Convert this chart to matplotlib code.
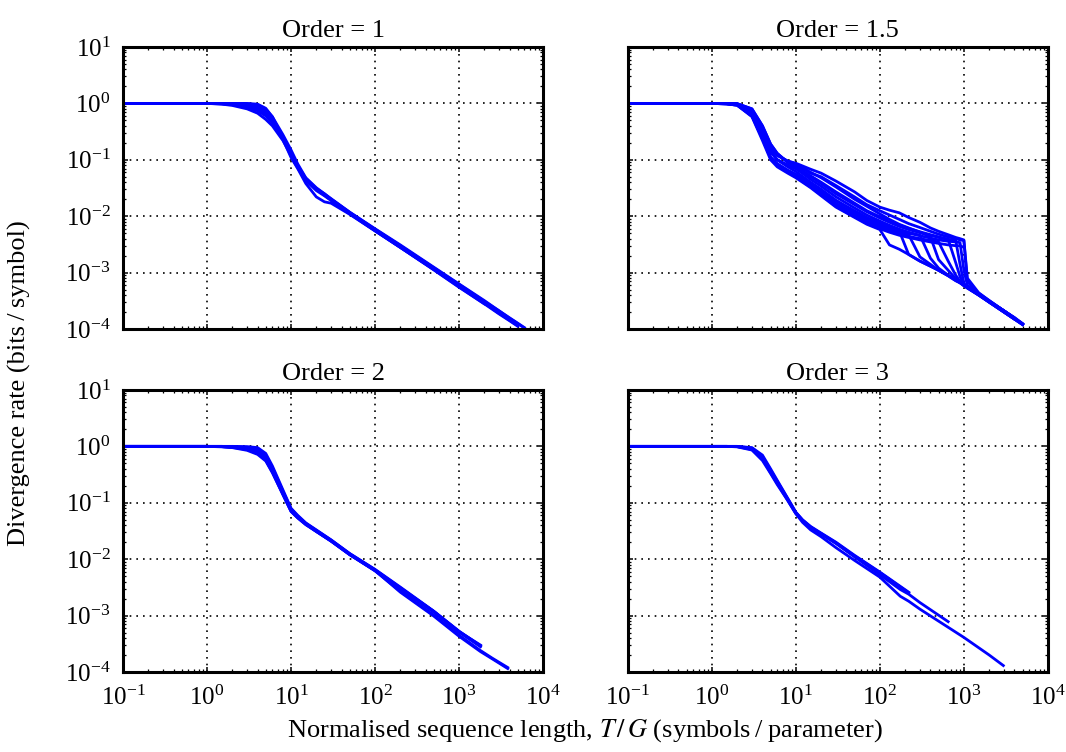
import matplotlib
matplotlib.use("Agg")
import matplotlib.pyplot as plt
from matplotlib.ticker import LogLocator, NullFormatter

# ---- data ----
titles = ["Order = 1", "Order = 1.5", "Order = 2", "Order = 3"]

# Order = 1
p1_x = [0.1, 0.5, 1, 1.5, 2, 3, 4, 5, 6, 8, 10, 12, 15, 20, 25, 30, 50, 100, 200, 500,
        1000, 2000, 3000, 4000, 5000, 6000]
p1_curves = [
    [1, 1, 1, 1, 1, 1, 0.97, 0.82, 0.58, 0.24, 0.12, 0.075, 0.046, 0.031, 0.024, 0.020, 0.0115,
     0.0058, 0.0030, 0.00122, 0.00062, 0.00031, 0.00021, 0.000155, 0.000125, 0.000104],
    [1, 1, 1, 1, 0.99, 0.96, 0.9, 0.74, 0.55, 0.25, 0.13, 0.078, 0.047, 0.031, 0.025, 0.020, 0.0117,
     0.0059, 0.0030, 0.00121, 0.00060, 0.00030, 0.00020, 0.000150, 0.000120],
    [1, 1, 1, 0.99, 0.97, 0.9, 0.8, 0.66, 0.5, 0.26, 0.135, 0.08, 0.045, 0.030, 0.024, 0.0195, 0.0114,
     0.0057, 0.0029, 0.00118, 0.00059, 0.00029, 0.000195, 0.000146],
    [1, 1, 1, 0.97, 0.92, 0.8, 0.67, 0.52, 0.4, 0.22, 0.12, 0.074, 0.044, 0.030, 0.0235, 0.0192, 0.0112,
     0.0056, 0.0028, 0.00115, 0.00058, 0.00029, 0.00019],
    [1, 1, 1, 0.98, 0.95, 0.85, 0.74, 0.6, 0.45, 0.23, 0.11, 0.07, 0.038, 0.022, 0.018, 0.017, 0.0108,
     0.0055, 0.0028, 0.00113, 0.00056, 0.00028, 0.000185, 0.00014, 0.000112],
    [1, 1, 1, 1, 1, 0.98, 0.94, 0.78, 0.58, 0.28, 0.15, 0.085, 0.048, 0.032, 0.025, 0.0205, 0.0118,
     0.0060, 0.0031, 0.00125, 0.00063, 0.00032, 0.00021, 0.000158, 0.000127, 0.000106],
    [1, 1, 1, 0.99, 0.96, 0.87, 0.77, 0.63, 0.48, 0.24, 0.125, 0.077, 0.046, 0.030, 0.024, 0.0197, 0.0113,
     0.0056, 0.0029, 0.00117, 0.00058, 0.00029, 0.00019, 0.000143, 0.000115],
    [1, 1, 1, 1, 0.98, 0.93, 0.86, 0.7, 0.53, 0.25, 0.118, 0.072, 0.043, 0.0285, 0.023, 0.019, 0.011,
     0.0055, 0.0028, 0.00112, 0.00055, 0.00028],
]

# Order = 1.5
p2_x = [0.1, 0.5, 1, 1.5, 2, 3, 4, 5, 6, 8, 10, 15, 20, 30, 50, 70, 100, 130, 170, 220, 300,
        400, 500, 650, 800, 900, 1000, 1100, 1500, 2000, 3000, 4000, 5000]
p2_curves = [
    # lowest, drops at ~100
    [1, 1, 1, 0.98, 0.93, 0.58, 0.22, 0.1, 0.075, 0.058, 0.048, 0.032, 0.023, 0.0145, 0.0095, 0.0072,
     0.0058, 0.0031, 0.0026, 0.0021, 0.0016, 0.0013, 0.0011, 0.0009, 0.00075, 0.00068, 0.0006,
     0.00054, 0.0004, 0.0003, 0.0002, 0.00015, 0.00012],
    # drops at 220
    [1, 1, 1, 0.99, 0.95, 0.62, 0.25, 0.11, 0.085, 0.065, 0.055, 0.036, 0.027, 0.017, 0.011, 0.0085,
     0.0068, 0.0058, 0.0051, 0.0047, 0.0019, 0.0014, 0.0011, 0.00088, 0.00072, 0.00066, 0.0006,
     0.00055, 0.00041, 0.00031, 0.00021, 0.000155, 0.000122],
    # drops at 300
    [1, 1, 1, 1, 0.97, 0.7, 0.3, 0.14, 0.1, 0.08, 0.07, 0.045, 0.034, 0.022, 0.014, 0.0105,
     0.0082, 0.0069, 0.0059, 0.0052, 0.0046, 0.0018, 0.0012, 0.0009, 0.00075, 0.00066, 0.00058,
     0.00053, 0.0004, 0.0003, 0.0002, 0.00015],
    # drops at 400
    [1, 1, 1, 1, 0.98, 0.75, 0.35, 0.16, 0.12, 0.095, 0.085, 0.06, 0.048, 0.033, 0.02, 0.015,
     0.011, 0.0088, 0.0072, 0.0062, 0.0052, 0.0043, 0.0017, 0.0011, 0.00078, 0.00068, 0.0006,
     0.00055, 0.00041, 0.00031, 0.00021, 0.000155, 0.000123],
    # drops at 500
    [1, 1, 1, 0.98, 0.93, 0.6, 0.24, 0.11, 0.08, 0.062, 0.052, 0.034, 0.025, 0.016, 0.0105, 0.008,
     0.0064, 0.0055, 0.0049, 0.0044, 0.0040, 0.0037, 0.0035, 0.0016, 0.0009, 0.0007, 0.00061,
     0.00055, 0.00041, 0.0003, 0.0002, 0.00015, 0.00012],
    # drops at 650
    [1, 1, 1, 1, 0.99, 0.8, 0.4, 0.19, 0.13, 0.09, 0.075, 0.052, 0.04, 0.027, 0.017, 0.0125,
     0.0098, 0.0082, 0.007, 0.0061, 0.0053, 0.0047, 0.0043, 0.0039, 0.0015, 0.00085, 0.00062,
     0.00055, 0.00041, 0.00031, 0.00021, 0.000155],
    # drops at 800
    [1, 1, 1, 1, 0.97, 0.7, 0.3, 0.14, 0.1, 0.08, 0.07, 0.05, 0.038, 0.025, 0.016, 0.012,
     0.0093, 0.0078, 0.0066, 0.0058, 0.0051, 0.0046, 0.0042, 0.0039, 0.0037, 0.0014, 0.00065,
     0.00055, 0.00042, 0.00031, 0.00021, 0.000156, 0.000124],
    # drops at 900
    [1, 1, 1, 0.99, 0.95, 0.62, 0.25, 0.11, 0.085, 0.065, 0.055, 0.038, 0.029, 0.019, 0.0125, 0.0095,
     0.0075, 0.0064, 0.0056, 0.0050, 0.0045, 0.0041, 0.0038, 0.0036, 0.0035, 0.0034, 0.0011,
     0.0006, 0.00042, 0.00031, 0.00021, 0.000155, 0.000122],
    # drops at 1000
    [1, 1, 1, 1, 0.99, 0.8, 0.4, 0.19, 0.13, 0.09, 0.08, 0.058, 0.05, 0.035, 0.022, 0.016,
     0.0125, 0.0105, 0.0088, 0.0074, 0.0063, 0.0054, 0.0048, 0.0043, 0.004, 0.0038, 0.0037,
     0.0007, 0.00043, 0.00032, 0.00021, 0.00016, 0.000125],
    # upper, wavy, drops at 1000
    [1, 1, 1, 1, 0.98, 0.75, 0.35, 0.16, 0.12, 0.095, 0.087, 0.068, 0.058, 0.042, 0.027, 0.019,
     0.0145, 0.0128, 0.0115, 0.0095, 0.0078, 0.0062, 0.0054, 0.0047, 0.0042, 0.0040, 0.0038,
     0.0008, 0.00044, 0.00032, 0.00021, 0.000158],
    # ends at 1000 without drop
    [1, 1, 1, 0.98, 0.93, 0.6, 0.24, 0.11, 0.08, 0.062, 0.05, 0.033, 0.024, 0.015, 0.0098, 0.0075,
     0.006, 0.0052, 0.0046, 0.0042, 0.0038, 0.0035, 0.0033, 0.0031, 0.003, 0.003, 0.0028],
    # drops at 170
    [1, 1, 1, 1, 0.97, 0.7, 0.3, 0.14, 0.1, 0.075, 0.062, 0.04, 0.03, 0.019, 0.012, 0.0092,
     0.0072, 0.0062, 0.0055, 0.0021, 0.0016, 0.0013, 0.0011, 0.00088, 0.00072, 0.00066, 0.0006,
     0.00054, 0.0004, 0.0003, 0.0002, 0.00015, 0.00012],
]

# Order = 2
p3_x = [0.1, 0.5, 1, 1.5, 2, 3, 4, 5, 6, 8, 10, 12, 15, 20, 30, 50, 100, 200, 500, 1000,
        1800, 2500, 3800]
p3_curves = [
    [1, 1, 1, 1, 1, 0.99, 0.95, 0.75, 0.45, 0.17, 0.08, 0.06, 0.044, 0.033, 0.022, 0.0126,
     0.0066, 0.0032, 0.0012, 0.00053, 0.00029],
    [1, 1, 1, 0.99, 0.97, 0.9, 0.8, 0.6, 0.38, 0.15, 0.075, 0.057, 0.043, 0.032, 0.0215, 0.0123,
     0.0064, 0.0031, 0.00118, 0.00052, 0.00029],
    [1, 1, 1, 0.98, 0.95, 0.85, 0.72, 0.55, 0.34, 0.14, 0.07, 0.054, 0.041, 0.031, 0.021, 0.012,
     0.0063, 0.0030, 0.00116, 0.00051, 0.00028],
    [1, 1, 1, 1, 0.99, 0.96, 0.9, 0.68, 0.42, 0.16, 0.078, 0.058, 0.043, 0.0325, 0.0218, 0.0125,
     0.0065, 0.0031, 0.00119, 0.00052, 0.00030],
    [1, 1, 1, 0.99, 0.96, 0.88, 0.76, 0.58, 0.36, 0.145, 0.072, 0.055, 0.042, 0.031, 0.021, 0.0121,
     0.0063, 0.0030, 0.00117, 0.00051],
    [1, 1, 1, 1, 0.98, 0.93, 0.85, 0.64, 0.4, 0.155, 0.076, 0.057, 0.042, 0.032, 0.0212, 0.0122,
     0.0063, 0.0026, 0.00098, 0.00043, 0.00023, 0.00017, 0.000115],
    [1, 1, 1, 0.99, 0.97, 0.9, 0.78, 0.57, 0.35, 0.14, 0.071, 0.054, 0.041, 0.031, 0.0208, 0.012,
     0.0062, 0.0027, 0.00102, 0.00045, 0.00024, 0.000175, 0.00012],
]

# Order = 3
p4_x = [0.1, 0.5, 1, 1.5, 2, 3, 4, 5, 6, 8, 10, 12, 15, 20, 30, 50, 100, 175, 220, 300, 650,
        1000, 2000, 2950]
p4_curves = [
    [1, 1, 1, 1, 1, 0.95, 0.7, 0.4, 0.25, 0.12, 0.068, 0.05, 0.038, 0.029, 0.020, 0.0117,
     0.0059, 0.0033, 0.0026],
    [1, 1, 1, 1, 0.99, 0.9, 0.62, 0.36, 0.23, 0.115, 0.066, 0.049, 0.037, 0.0285, 0.0195, 0.0114,
     0.0058, 0.0032, 0.00255],
    [1, 1, 1, 1, 0.98, 0.86, 0.56, 0.33, 0.21, 0.11, 0.064, 0.048, 0.0365, 0.028, 0.0192, 0.0112,
     0.0057, 0.0032, 0.0025],
    [1, 1, 1, 1, 1, 0.93, 0.66, 0.38, 0.24, 0.118, 0.067, 0.049, 0.037, 0.028, 0.019, 0.011,
     0.0053, 0.0029, 0.0024, 0.0017, 0.00078],
    [1, 1, 1, 1, 0.99, 0.88, 0.6, 0.34, 0.22, 0.11, 0.064, 0.045, 0.033, 0.025, 0.016, 0.0095,
     0.0048, 0.0022, 0.0018, 0.0013, 0.00062, 0.00041, 0.0002, 0.00013],
]

all_x = [p1_x, p2_x, p3_x, p4_x]
all_curves = [p1_curves, p2_curves, p3_curves, p4_curves]

# ---- style ----
plt.rcParams['font.family'] = ['Liberation Serif', 'DejaVu Serif']
plt.rcParams['mathtext.fontset'] = 'stix'
plt.rcParams['font.size'] = 18
plt.rcParams['xtick.labelsize'] = 18
plt.rcParams['ytick.labelsize'] = 18
plt.rcParams['xtick.direction'] = 'in'
plt.rcParams['ytick.direction'] = 'in'
plt.rcParams['xtick.top'] = True
plt.rcParams['ytick.right'] = True
plt.rcParams['xtick.major.size'] = 3.5
plt.rcParams['ytick.major.size'] = 3.5
plt.rcParams['xtick.minor.size'] = 2
plt.rcParams['ytick.minor.size'] = 2
plt.rcParams['xtick.major.width'] = 1.1
plt.rcParams['ytick.major.width'] = 1.1
plt.rcParams['xtick.minor.width'] = 0.9
plt.rcParams['ytick.minor.width'] = 0.9
plt.rcParams['xtick.major.pad'] = 10
plt.rcParams['ytick.major.pad'] = 9
plt.rcParams['axes.linewidth'] = 2.2

fig, axes = plt.subplots(2, 2, figsize=(10.66, 7.52), dpi=100, sharex=True, sharey=True)
fig.subplots_adjust(left=0.1154, right=0.983, bottom=0.1064, top=0.9375,
                    wspace=0.202, hspace=0.216)

for ax, title, xs, curves in zip(axes.flat, titles, all_x, all_curves):
    for ys in curves:
        ax.plot(xs[:len(ys)], ys, color='#0000ff', lw=2)
    ax.set_xscale('log')
    ax.set_yscale('log')
    ax.set_xlim(1e-1, 1e4)
    ax.set_ylim(1e-4, 1e1)
    for axis in (ax.xaxis, ax.yaxis):
        axis.set_minor_locator(LogLocator(base=10, subs=range(2, 10), numticks=50))
        axis.set_minor_formatter(NullFormatter())
    ax.grid(True, which='major', color='k', linestyle=(0, (1, 3)), linewidth=1.2)
    ax.set_title(title, fontsize=19, pad=7)

fig.text(0.018, 0.49, 'Divergence rate (bits\u2009/\u2009symbol)', rotation=90,
         ha='center', va='center', fontsize=19)
fig.text(0.549, 0.020, 'Normalised sequence length, $T\\,/\\,G$ (symbols\u2009/\u2009parameter)',
         ha='center', va='baseline', fontsize=19)

fig.savefig('out.png', dpi=100)
